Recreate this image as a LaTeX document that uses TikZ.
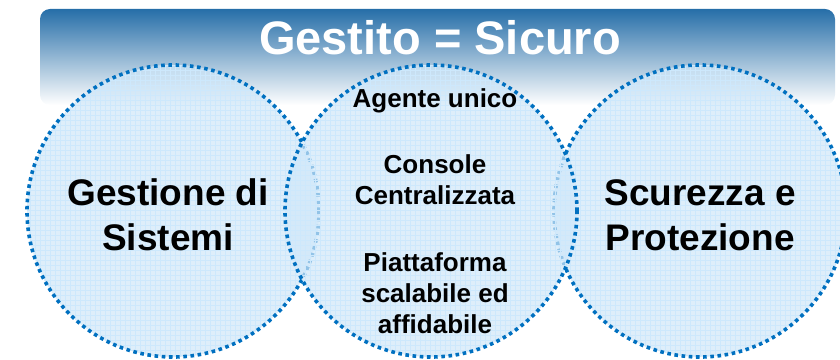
\documentclass[tikz,border=0pt]{standalone}
\usepackage{fontspec}
\setmainfont{Liberation Sans}
\usetikzlibrary{shapes}

\definecolor{headcol}{RGB}{38,110,168}
\definecolor{headmid}{RGB}{165,182,208}
\definecolor{dotcol}{RGB}{0,112,192}
\definecolor{fillcol}{RGB}{208,231,248}
\definecolor{gridcol}{RGB}{205,232,252}

\begin{document}
\begin{tikzpicture}[line join=bevel,
  area/.style={circle,minimum size=292bp,inner sep=0pt,fill=fillcol,fill opacity=0.7},
  rim/.style={draw=dotcol,line width=3.6bp,dash pattern=on 3.6bp off 3.6bp},
  gridline/.style={draw=gridcol,line width=0.3bp},
  bigtext/.style={align=center,font=\bfseries\fontsize{37bp}{45bp}\selectfont},
  smalltext/.style={align=center,font=\bfseries\fontsize{26bp}{31bp}\selectfont}]
  \useasboundingbox (0bp,0bp) rectangle (840bp,360bp);
%%
  % Header band
  \shade[top color=headcol,middle color=headmid,bottom color=white,rounded corners=10bp]
    (40bp,255bp) rectangle (835bp,351bp);
  \node[text=white,font=\bfseries\fontsize{47bp}{47bp}\selectfont] (title) at (440bp,322bp) {Gestito = Sicuro};
%
  % Node: gest
  \node[area] (gest) at (173bp,149bp) {};
\begin{scope}
  \clip (gest.center) circle (146bp);
  \draw[gridline] (20bp,0bp) grid[step=5bp] (330bp,300bp);
\end{scope}
  \draw[rim] (gest.center) circle (146bp);
%
  % Node: sicur
  \node[area] (sicur) at (700bp,149bp) {};
\begin{scope}
  \clip (sicur.center) circle (146bp);
  \draw[gridline] (550bp,0bp) grid[step=5bp] (850bp,300bp);
\end{scope}
  \draw[rim] (sicur.center) circle (146bp);
%
  % Node: piatt
  \node[area] (piatt) at (431bp,149bp) {};
\begin{scope}
  \clip (piatt.center) circle (146bp);
  \draw[gridline] (280bp,0bp) grid[step=5bp] (580bp,300bp);
\end{scope}
  \draw[rim] (piatt.center) circle (146bp);
%
  % Labels
  \node[bigtext] (gestlab) at (168bp,145bp) {Gestione di\\Sistemi};
  \node[bigtext] (sicurlab) at (700bp,145bp) {Scurezza e\\Protezione};
  \node[smalltext] (agente) at (435bp,259bp) {Agente unico};
  \node[smalltext] (console) at (435bp,180bp) {Console\\Centralizzata};
  \node[smalltext] (scala) at (435bp,67bp) {Piattaforma\\scalabile ed\\affidabile};
%
\end{tikzpicture}
\end{document}
